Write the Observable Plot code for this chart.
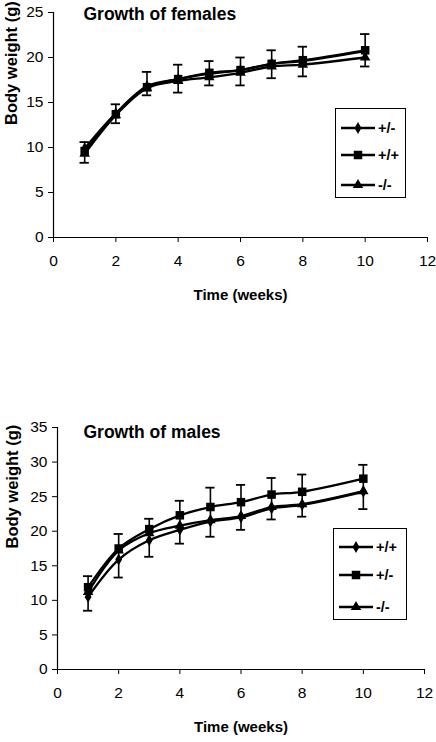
<!DOCTYPE html>
<html>
<head>
<meta charset="utf-8">
<script src="https://cdn.jsdelivr.net/npm/d3@7"></script>
<script src="https://cdn.jsdelivr.net/npm/@observablehq/plot@0.6"></script>
<style>
  html, body { margin: 0; padding: 0; background: white; }
  body { width: 436px; height: 742px; position: relative; overflow: hidden; font-family: "Liberation Sans", Arial, sans-serif; }
  .panel { position: absolute; left: 0; }
  .legend { position: absolute; border: 1px solid #000; background: white; }
  .legend svg { display: block; }
</style>
</head>
<body>
<div id="topPanel" class="panel" style="top:0px"></div>
<div id="bottomPanel" class="panel" style="top:400px"></div>
<script>
// ---- data ----
const weeks = [1, 2, 3, 4, 5, 6, 7, 8, 10];
const xTicks = [0, 2, 4, 6, 8, 10, 12];

// Females
const femaleTitle = "Growth of females";
const femaleLabels = ["+/-", "+/+", "-/-"];
const femaleHet = [9.9, 13.8, 16.8, 17.6, 18.2, 18.6, 19.3, 19.6, 20.7];
const femaleWT  = [9.6, 13.7, 16.7, 17.6, 18.3, 18.6, 19.3, 19.7, 20.8];
const femaleKO  = [9.3, 13.6, 16.6, 17.4, 17.8, 18.3, 19.0, 19.2, 20.0];
const femaleErrHigh = [10.6, 14.8, 18.4, 19.2, 19.6, 20.0, 20.8, 21.2, 22.6];
const femaleErrLow  = [8.3, 12.7, 15.8, 16.1, 16.9, 16.9, 17.7, 17.9, 19.0];
const femaleYTicks = [0, 5, 10, 15, 20, 25];

// Males
const maleTitle = "Growth of males";
const maleLabels = ["+/+", "+/-", "-/-"];
const maleWT  = [10.5, 15.9, 18.7, 20.2, 21.4, 22.0, 23.3, 23.8, 25.7];
const maleHet = [11.9, 17.5, 20.3, 22.3, 23.5, 24.2, 25.3, 25.7, 27.6];
const maleKO  = [11.2, 17.2, 19.7, 20.8, 21.6, 22.2, 23.5, 23.9, 25.8];
const maleErrHigh = [13.5, 19.6, 21.8, 24.4, 26.3, 26.7, 27.7, 28.2, 29.6];
const maleErrLow  = [8.5, 13.3, 16.3, 18.2, 19.2, 20.2, 21.7, 22.1, 23.2];
const maleYTicks = [0, 5, 10, 15, 20, 25, 30, 35];

const symbols = ["diamond", "square", "triangle"];
const symbolR = {diamond: 3.6, square: 4.8, triangle: 3.9};
const xLabel = "Time (weeks)";
const yLabel = "Body weight (g)";
const FONT = "Liberation Sans, Arial, sans-serif";

function makeChart(cfg) {
  const {title, labels, values, errHigh, errLow, yTicks, m, titleDx, titleDy} = cfg;
  const series = labels.map((lab, i) => ({label: lab, symbol: symbols[i],
    rows: weeks.map((w, j) => ({week: w, value: values[i][j], label: lab}))}));
  const errs = weeks.map((w, j) => ({week: w, high: errHigh[j], low: errLow[j]}));
  const yMax = yTicks[yTicks.length - 1];
  const marks = [
    Plot.ruleX(errs, {x: "week", y1: "low", y2: "high", stroke: "black", strokeWidth: 1.6}),
    Plot.ruleY(errs, {y: "high", x1: d => d.week - 0.15, x2: d => d.week + 0.15, stroke: "black", strokeWidth: 1.8}),
    Plot.ruleY(errs, {y: "low", x1: d => d.week - 0.15, x2: d => d.week + 0.15, stroke: "black", strokeWidth: 1.8}),
  ];
  series.forEach(s => {
    marks.push(Plot.line(s.rows, {x: "week", y: "value", curve: "catmull-rom", stroke: "black", strokeWidth: 2.3}));
  });
  series.forEach(s => {
    marks.push(Plot.dot(s.rows, {x: "week", y: "value", symbol: s.symbol, r: symbolR[s.symbol], fill: "black", stroke: "none"}));
  });
  marks.push(
    Plot.axisX({ticks: xTicks, tickSize: 5, tickPadding: 12, label: null, fontSize: 15.5, stroke: "black"}),
    Plot.axisY({ticks: yTicks, tickSize: 5, tickPadding: 5, label: null, fontSize: 15.5, stroke: "black"}),
    Plot.ruleX([0], {stroke: "black", strokeWidth: 1.2}),
    Plot.ruleY([0], {stroke: "black", strokeWidth: 1.2}),
    Plot.text([title], {frameAnchor: "top-left", text: d => d, dx: titleDx, dy: titleDy, textAnchor: "start", lineAnchor: "middle", fontSize: 17.5, fontWeight: "bold", fill: "black"}),
    Plot.text([xLabel], {frameAnchor: "bottom", text: d => d, dy: 58, lineAnchor: "middle", fontSize: 15, fontWeight: "bold", fill: "black"}),
    Plot.text([yLabel], {frameAnchor: "left", text: d => d, dx: -m.left + m.yTitleX, rotate: -90, lineAnchor: "middle", fontSize: 16.5, fontWeight: "bold", fill: "black"})
  );
  return Plot.plot({
    width: 436, height: m.height,
    marginLeft: m.left, marginRight: m.right, marginTop: m.top, marginBottom: m.bottom,
    x: {domain: [0, 12]},
    y: {domain: [0, yMax]},
    style: {fontFamily: FONT, color: "black", background: "white", overflow: "visible"},
    marks
  });
}

function makeLegend(labels, box) {
  const div = document.createElement("div");
  div.className = "legend";
  Object.assign(div.style, {left: box.left + "px", top: box.top + "px", width: box.w + "px", height: box.h + "px"});
  const svg = d3.create("svg").attr("width", box.w).attr("height", box.h);
  const symMap = {diamond: d3.symbolDiamond, square: d3.symbolSquare, triangle: d3.symbolTriangle};
  labels.forEach((lab, i) => {
    const y = box.rows[i];
    svg.append("line").attr("x1", 5).attr("x2", 39).attr("y1", y).attr("y2", y).attr("stroke", "black").attr("stroke-width", 2.3);
    const r = symbolR[symbols[i]];
    svg.append("path").attr("d", d3.symbol(symMap[symbols[i]], Math.PI * r * r)()).attr("transform", `translate(22,${y})`).attr("fill", "black");
    svg.append("text").attr("x", 42).attr("y", y).attr("dy", "0.35em").attr("font-family", FONT).attr("font-size", 14.5).attr("font-weight", "bold").text(lab);
  });
  div.appendChild(svg.node());
  return div;
}

const topPanel = document.getElementById("topPanel");
topPanel.appendChild(makeChart({
  title: femaleTitle, labels: femaleLabels, values: [femaleHet, femaleWT, femaleKO],
  errHigh: femaleErrHigh, errLow: femaleErrLow, yTicks: femaleYTicks,
  m: {height: 310, left: 53, right: 9, top: 12, bottom: 73, yTitleX: 11}, titleDx: 30, titleDy: 2
}));
topPanel.appendChild(makeLegend(femaleLabels, {left: 335, top: 108, w: 69, h: 88, rows: [19, 46, 76]}));

const bottomPanel = document.getElementById("bottomPanel");
bottomPanel.appendChild(makeChart({
  title: maleTitle, labels: maleLabels, values: [maleWT, maleHet, maleKO],
  errHigh: maleErrHigh, errLow: maleErrLow, yTicks: maleYTicks,
  m: {height: 342, left: 57, right: 12, top: 27, bottom: 73, yTitleX: 12}, titleDx: 26, titleDy: 5
}));
bottomPanel.appendChild(makeLegend(maleLabels, {left: 333, top: 128, w: 72, h: 90, rows: [18, 46, 78]}));
</script>
</body>
</html>
